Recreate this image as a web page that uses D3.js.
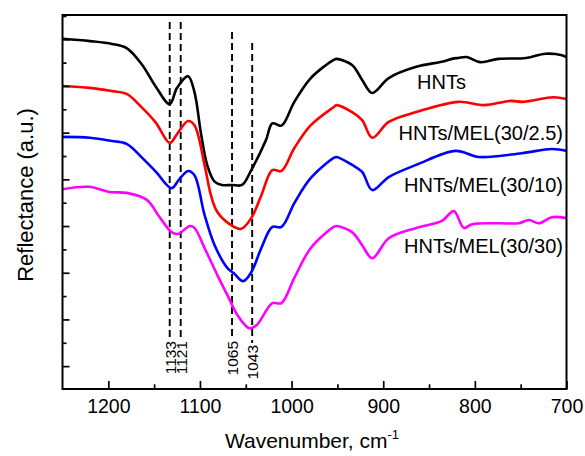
<!DOCTYPE html>
<html><head><meta charset="utf-8">
<script src="https://cdn.jsdelivr.net/npm/d3@7"></script>
<style>
body{margin:0;background:#fff;}
svg{display:block;font-family:"Liberation Sans",Arial,Helvetica,sans-serif;}
</style></head>
<body><svg id="chart" width="585" height="456"></svg>
<script>
// ---- data (wavenumber cm-1, reflectance a.u.) ----
const hntsWn  = [1250,1220,1196,1180,1163,1148,1133,1125,1113,1106,1099,1092,1084,1076,1065,1054,1044,1028,1021,1011,997,979,954,951,934,923,912,894,864,836,825,818,809,794,774,744,723,705,700];
const hntsVal = [7.01,6.96,6.90,6.81,6.45,5.98,5.61,5.96,6.21,5.87,5.00,4.30,3.95,3.88,3.88,3.88,4.20,4.84,5.20,5.15,5.66,6.17,6.56,6.58,6.45,6.13,5.85,6.17,6.41,6.52,6.58,6.60,6.62,6.51,6.58,6.60,6.69,6.66,6.62];

const mel25Wn  = [1250,1220,1196,1180,1163,1148,1133,1125,1113,1106,1095,1088,1081,1066,1055,1044,1033,1021,1011,997,979,954,951,934,923,912,894,864,818,790,761,747,714,700];
const mel25Val = [6.00,5.96,5.89,5.83,5.53,5.21,4.78,4.97,5.25,5.16,4.31,3.66,3.30,3.02,2.94,3.17,3.66,4.20,4.18,4.67,5.16,5.55,5.59,5.44,5.27,4.89,5.23,5.44,5.66,5.59,5.68,5.66,5.76,5.72];

const mel10Wn  = [1250,1220,1196,1180,1163,1148,1131,1123,1113,1106,1095,1084,1070,1063,1053,1044,1033,1021,1011,997,979,954,951,934,923,912,894,864,821,796,749,716,700];
const mel10Val = [4.91,4.89,4.82,4.76,4.46,4.16,3.81,3.99,4.18,4.09,3.24,2.59,2.10,1.99,1.82,2.01,2.53,2.98,2.98,3.49,4.03,4.46,4.48,4.31,4.16,3.77,4.05,4.31,4.61,4.48,4.56,4.65,4.61];

const mel30Wn  = [1250,1221,1199,1180,1158,1144,1131,1124,1111,1106,1095,1081,1070,1059,1046,1038,1021,1011,997,979,954,951,934,923,912,894,864,836,823,812,803,774,752,741,730,716,700];
const mel30Val = [3.79,3.84,3.73,3.71,3.56,3.19,2.87,2.83,3.00,2.96,2.53,1.95,1.52,1.09,0.81,0.88,1.35,1.35,1.89,2.53,2.98,3.00,2.87,2.59,2.31,2.74,2.96,3.11,3.32,2.96,3.04,3.06,3.06,3.13,3.06,3.19,3.17];

const seriesNames  = ["HNTs","HNTs/MEL(30/2.5)","HNTs/MEL(30/10)","HNTs/MEL(30/30)"];
const seriesColors = ["#000000","#ff0000","#0000ff","#ff00ff"];
const peakWn     = [1133,1121,1065,1043];
const peakLabels = ["1133","1121","1065","1043"];
const xMajorTicks = [1200,1100,1000,900,800,700];
const xMinorTicks = [1150,1050,950,850,750];
const yMajorTicks = [0,1,2,3,4,5,6,7];
const yMinorTicks = [0.5,1.5,2.5,3.5,4.5,5.5,6.5,7.5];

// ---- layout ----
const L = 62.5, R = 566.5, T = 15, B = 389;
const svg = d3.select("#chart");
const x = d3.scaleLinear().domain([1250,700]).range([L,R]);
const y = d3.scaleLinear().domain([-0.49,7.52]).range([B,T]);

const series = [
  {wn:hntsWn, v:hntsVal},
  {wn:mel25Wn, v:mel25Val},
  {wn:mel10Wn, v:mel10Val},
  {wn:mel30Wn, v:mel30Val}
];

// dashed peak lines
const peakTop = {1133:22, 1121:22, 1065:32, 1043:43};
const peakBot = {1133:339, 1121:339, 1065:339, 1043:343};
peakWn.forEach((w,i)=>{
  svg.append("line")
    .attr("x1",x(w)).attr("x2",x(w))
    .attr("y1",peakTop[w]).attr("y2",peakBot[w])
    .attr("stroke","#000").attr("stroke-width",1.9)
    .attr("stroke-dasharray","7,4");
  svg.append("text")
    .attr("transform",`translate(${x(w)+5.8},${peakBot[w]+2}) rotate(-90)`)
    .attr("text-anchor","end")
    .attr("font-size",15.5)
    .text(peakLabels[i]);
});

// curves
const line = d3.line().x(d=>x(d[0])).y(d=>y(d[1])).curve(d3.curveCatmullRom.alpha(0.5));
series.forEach((s,i)=>{
  const pts = s.wn.map((w,j)=>[w,s.v[j]]);
  svg.append("path").attr("d",line(pts))
    .attr("fill","none").attr("stroke",seriesColors[i])
    .attr("stroke-width",2.6).attr("stroke-linejoin","round");
});

// axes
const gx = svg.append("g").attr("transform",`translate(0,${B})`)
  .call(d3.axisBottom(x).tickValues(xMajorTicks).tickSize(-8).tickPadding(10).tickFormat(d3.format("d")));
const gxm = svg.append("g").attr("transform",`translate(0,${B})`)
  .call(d3.axisBottom(x).tickValues(xMinorTicks).tickSize(-4.7).tickFormat(""));
const gy = svg.append("g").attr("transform",`translate(${L},0)`)
  .call(d3.axisLeft(y).tickValues(yMajorTicks).tickSize(-7).tickFormat(""));
const gym = svg.append("g").attr("transform",`translate(${L},0)`)
  .call(d3.axisLeft(y).tickValues(yMinorTicks).tickSize(-4).tickFormat(""));
[gx,gxm,gy,gym].forEach(g=>{
  g.select(".domain").remove();
  g.selectAll(".tick line").attr("stroke","#000").attr("stroke-width",1.7);
});
gx.selectAll("text").attr("font-size",19.5).attr("fill","#000")
  .attr("font-family","'Liberation Sans',Arial,Helvetica,sans-serif");

// frame
svg.append("rect").attr("x",L).attr("y",T).attr("width",R-L).attr("height",B-T)
  .attr("fill","none").attr("stroke","#000").attr("stroke-width",2);

// series labels
const labelPos = [{x:417,y:89,a:"start"},{x:563,y:140,a:"end"},{x:563,y:192,a:"end"},{x:563,y:253,a:"end"}];
seriesNames.forEach((n,i)=>{
  svg.append("text").attr("x",labelPos[i].x).attr("y",labelPos[i].y)
    .attr("text-anchor",labelPos[i].a).attr("font-size",20).text(n);
});

// axis titles
const xt = svg.append("text").attr("x",312).attr("y",448).attr("text-anchor","middle").attr("font-size",21);
xt.append("tspan").text("Wavenumber, cm");
xt.append("tspan").attr("font-size",13).attr("dy",-9).text("-1");
svg.append("text").attr("transform","translate(33,195) rotate(-90)")
  .attr("text-anchor","middle").attr("font-size",22).text("Reflectance (a.u.)");
</script></body></html>
